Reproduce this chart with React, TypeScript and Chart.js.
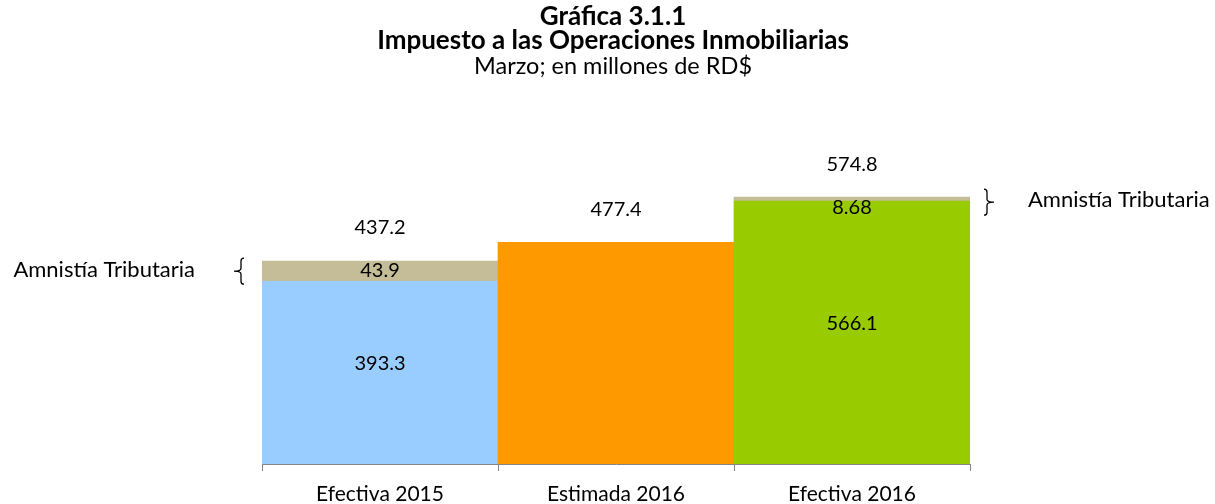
import React, { useEffect, useRef } from "react";
import { Chart, registerables } from "chart.js";

Chart.register(...registerables);

const categories = ["Efectiva 2015", "Estimada 2016", "Efectiva 2016"];
const baseValues = [393.3, 477.4, 566.1];
const amnestyValues = [43.9, 0, 8.68];
const baseLabels = ["393.3", "", "566.1"];
const amnestyLabels = ["43.9", "", "8.68"];
const totalLabels = ["437.2", "477.4", "574.8"];
const titleLines = ["Gráfica 3.1.1", "Impuesto a las Operaciones Inmobiliarias"];
const subtitleText = "Marzo; en millones de RD$";
const annotationText = "Amnistía Tributaria";

const FONT = "Lato, 'Open Sans', sans-serif";
const CANVAS_W = 1215;
const CANVAS_H = 504;
const X_AXIS_H = 40;

function drawBrace(ctx: CanvasRenderingContext2D, x: number, yc: number, half: number, dir: number) {
  // dir = -1 : "{" (point to the left), dir = 1 : "}" (point to the right)
  const w = 7 * dir;
  const top = yc - half;
  const bot = yc + half;
  const cap = dir < 0 ? 3 : -3;
  ctx.beginPath();
  ctx.moveTo(x + cap, top);
  ctx.quadraticCurveTo(x, top, x, top + 3);
  ctx.lineTo(x, yc - 3);
  ctx.quadraticCurveTo(x, yc, x + w, yc);
  ctx.quadraticCurveTo(x, yc, x, yc + 3);
  ctx.lineTo(x, bot - 3);
  ctx.quadraticCurveTo(x, bot, x + cap, bot);
  ctx.stroke();
}

const labelPlugin = {
  id: "customLabels",
  afterDatasetsDraw(chart: any) {
    const ctx = chart.ctx as CanvasRenderingContext2D;
    const area = chart.chartArea;
    ctx.save();
    ctx.fillStyle = "#000";
    ctx.font = `20px ${FONT}`;
    ctx.textAlign = "center";
    ctx.textBaseline = "middle";
    const labelSets = [baseLabels, amnestyLabels];
    chart.data.datasets.forEach((ds: any, di: number) => {
      const meta = chart.getDatasetMeta(di);
      meta.data.forEach((el: any, i: number) => {
        const txt = labelSets[di][i];
        if (!txt) return;
        const top = Math.min(el.y, el.base);
        const bot = Math.max(el.y, el.base);
        const h = bot - top;
        const ty = h > 40 ? (top + bot) / 2 - 9 : top + 10;
        ctx.fillText(txt, el.x, ty);
      });
    });
    // totals
    const m0 = chart.getDatasetMeta(0);
    const m1 = chart.getDatasetMeta(1);
    m0.data.forEach((el: any, i: number) => {
      const topY = Math.min(el.y, m1.data[i].y);
      ctx.fillText(totalLabels[i], el.x, topY - 33);
    });
    // braces and annotation
    ctx.strokeStyle = "#000";
    ctx.lineWidth = 1.3;
    ctx.font = `22px ${FONT}`;
    m1.data.forEach((el: any, i: number) => {
      if (!amnestyValues[i]) return;
      const yc = (el.y + el.base) / 2;
      if (i === 0) {
        const bx = area.left - 21;
        drawBrace(ctx, bx, yc, 13, -1);
        ctx.textAlign = "right";
        ctx.fillText(annotationText, bx - 46, yc - 1);
      } else {
        const bx = area.right + 17;
        drawBrace(ctx, bx, yc + 3, 13, 1);
        ctx.textAlign = "left";
        ctx.fillText(annotationText, bx + 41, yc + 1);
      }
    });
    ctx.restore();
  },
  afterDraw(chart: any) {
    const ctx = chart.ctx as CanvasRenderingContext2D;
    ctx.save();
    ctx.fillStyle = "#000";
    ctx.textAlign = "center";
    ctx.textBaseline = "middle";
    const cx = 613;
    ctx.font = `bold 26px ${FONT}`;
    ctx.fillText(titleLines[0], cx, 17);
    ctx.fillText(titleLines[1], cx, 41);
    ctx.font = `23.5px ${FONT}`;
    ctx.fillText(subtitleText, cx, 66);
    ctx.restore();
  },
};

export default function App() {
  const ref = useRef<HTMLCanvasElement | null>(null);
  useEffect(() => {
    if (!ref.current) return;
    const chart = new Chart(ref.current, {
      type: "bar",
      data: {
        labels: categories,
        datasets: [
          {
            label: "Impuesto",
            data: baseValues,
            backgroundColor: ["#99CCFF", "#FF9900", "#99CC00"],
            barPercentage: 1,
            categoryPercentage: 1,
            borderWidth: 0,
          },
          {
            label: "Amnistía Tributaria",
            data: amnestyValues,
            backgroundColor: "#C4BD97",
            barPercentage: 1,
            categoryPercentage: 1,
            borderWidth: 0,
          },
        ],
      },
      options: {
        animation: false,
        responsive: false,
        maintainAspectRatio: false,
        layout: { padding: { top: 139, left: 262, right: 245, bottom: 0 } },
        plugins: {
          legend: { display: false },
          title: { display: false },
          tooltip: { enabled: false },
        },
        scales: {
          x: {
            stacked: true,
            offset: true,
            afterFit: (scale: any) => {
              scale.height = X_AXIS_H;
            },
            grid: {
              display: true,
              drawOnChartArea: false,
              drawTicks: true,
              tickLength: 7,
              offset: true,
              color: "#868686",
            },
            border: { display: true, color: "#868686", width: 1 },
            ticks: {
              color: "#000",
              font: { family: FONT, size: 21 },
              padding: 11,
              maxRotation: 0,
            },
          },
          y: {
            stacked: true,
            display: false,
            min: 0,
            max: 700,
          },
        },
      },
      plugins: [labelPlugin],
    });
    return () => chart.destroy();
  }, []);
  return (
    <div style={{ position: "fixed", left: 0, top: 0, width: CANVAS_W, height: CANVAS_H, overflow: "hidden", background: "#fff" }}>
      <canvas ref={ref} width={CANVAS_W} height={CANVAS_H} style={{ width: CANVAS_W, height: CANVAS_H, display: "block" }} />
    </div>
  );
}
